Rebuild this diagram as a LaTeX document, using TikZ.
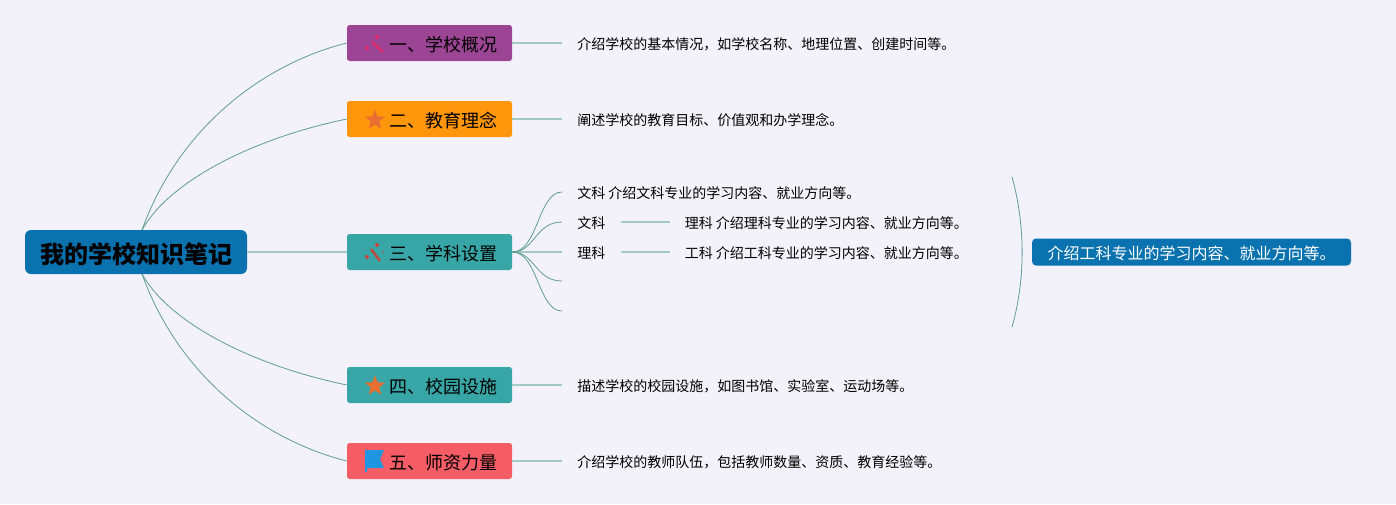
\documentclass[tikz,border=0pt]{standalone}
\usepackage{fontspec}
\setmainfont{Noto Sans CJK SC}
\usetikzlibrary{shapes.geometric}
\definecolor{bgc}{HTML}{F3F2FA}
\definecolor{rootc}{HTML}{0A72AE}
\definecolor{purplec}{HTML}{9C4595}
\definecolor{orangec}{HTML}{FF960C}
\definecolor{tealc}{HTML}{38A6A6}
\definecolor{redc}{HTML}{F55D66}
\definecolor{curvec}{HTML}{5F9C94}
\definecolor{linec}{HTML}{A3C9C3}
\definecolor{starc}{HTML}{E96E30}
\definecolor{wandp}{HTML}{DD2C6C}
\definecolor{wandr}{HTML}{C4483A}
\definecolor{flagc}{HTML}{1E96E0}
\tikzset{
  x=0.75pt,y=-0.75pt,
  rootbox/.style={draw=none,fill=rootc,rounded corners=4.5pt,minimum width=166.5pt,minimum height=33pt,inner sep=0pt,font=\fontsize{18}{20}\selectfont\bfseries,text=black,text height=18pt,text depth=1pt},
  branch/.style={draw=none,fill=#1,rounded corners=2pt,minimum width=123.75pt,minimum height=27pt,inner sep=0pt,font=\fontsize{13.5}{16}\selectfont,text=black,text height=13pt,text depth=0.9pt},
  leaf/.style={anchor=west,inner xsep=11.25pt,inner ysep=0pt,font=\fontsize{10.5}{13}\selectfont,text=black},
  notebox/.style={fill=rootc,rounded corners=3pt,minimum width=239.25pt,minimum height=20.25pt,inner sep=0pt,font=\fontsize{12}{14}\selectfont,text=white,text height=12.4pt,text depth=1pt},
  curve/.style={draw=curvec,line width=0.6pt},
  straight/.style={draw=linec,line width=0.9pt},
  staricon/.style={star,star points=5,star point ratio=2.4,fill=starc,inner sep=0pt,minimum size=16pt},
}
\newcommand{\ic}{\hspace*{21.5pt}}
\begin{document}
\begin{tikzpicture}
\useasboundingbox (0,0) rectangle (1396,504);
\fill[bgc] (0,0) rectangle (1396,504);

\coordinate (rootT) at (142,230);
\coordinate (rootB) at (142,274);
\node[rootbox] (root) at (136,252) {我的学校知识笔记};

\node[branch=purplec] (b1) at (429.5,43) {\ic 一、学校概况};
\node[branch=orangec] (b2) at (429.5,119) {\ic 二、教育理念};
\node[branch=tealc] (b3) at (429.5,252) {\ic 三、学科设置};
\node[branch=tealc] (b4) at (429.5,385) {\ic 四、校园设施};
\node[branch=redc] (b5) at (429.5,461) {\ic 五、师资力量};

\draw[curve] (rootT) .. controls (178,130) and (260,65) .. (b1.west);
\draw[curve] (rootT) .. controls (170,180) and (255,138) .. (b2.west);
\draw[curve] (rootB) .. controls (170,324) and (255,366) .. (b4.west);
\draw[curve] (rootB) .. controls (178,374) and (260,439) .. (b5.west);
\draw[straight] (root.east) -- (b3.west);

\node[leaf] (l1) at (562,44) {介绍学校的基本情况，如学校名称、地理位置、创建时间等。};
\node[leaf] (l2) at (562,120) {阐述学校的教育目标、价值观和办学理念。};
\node[leaf] (l4) at (562,386) {描述学校的校园设施，如图书馆、实验室、运动场等。};
\node[leaf] (l5) at (562,462) {介绍学校的教师队伍，包括教师数量、资质、教育经验等。};
\node[leaf] (s1) at (562,193) {文科 介绍文科专业的学习内容、就业方向等。};
\node[leaf] (s2) at (562,223) {文科};
\node[leaf] (s3) at (562,253) {理科};
\node[leaf] (t2) at (669.5,223) {理科 介绍理科专业的学习内容、就业方向等。};
\node[leaf] (t3) at (669.5,253) {工科 介绍工科专业的学习内容、就业方向等。};
\coordinate (s4) at (562,281);
\coordinate (s5) at (562,311);

\draw[straight] (b1.east) -- (b1.east -| l1.west);
\draw[straight] (b2.east) -- (b2.east -| l2.west);
\draw[straight] (b4.east) -- (b4.east -| l4.west);
\draw[straight] (b5.east) -- (b5.east -| l5.west);
\draw[straight] (b3.east) -- (b3.east -| s3.west);
\draw[straight] (s2.east |- 0,222) -- (t2.west |- 0,222);
\draw[straight] (s3.east |- 0,252) -- (t3.west |- 0,252);

\draw[curve] (b3.east) .. controls (538,252) and (538,192) .. (s1.west |- 0,192);
\draw[curve] (b3.east) .. controls (535,252) and (535,222) .. (s2.west |- 0,222);
\draw[curve] (b3.east) .. controls (535,252) and (535,281) .. (s4);
\draw[curve] (b3.east) .. controls (538,252) and (538,311) .. (s5);

\coordinate (braceT) at (1012,177);
\coordinate (braceB) at (1012,327);
\draw[curve] (braceT) .. controls (1025.5,225) and (1025.5,280) .. (braceB);
\node[notebox] (note) at (1191.5,252) {介绍工科专业的学习内容、就业方向等。};

% icons
\draw[wandp,line width=1.8pt] (372,42) -- (383,52);
\fill[wandp] (377,37) circle (2.2) (367,48) circle (2.2);
\node[staricon] (star2) at (375,120) {};
\draw[wandr,line width=1.8pt] (371,249) -- (380,261);
\fill[wandr] (377,245) circle (2) (367,257) circle (2) (383,252) circle (0.8);
\node[staricon] (star4) at (375,386) {};
\fill[flagc] (365,450) -- (384,450) -- (380,459) -- (384,468) -- (367,468) -- (367,472) -- (365,472) -- cycle;
\end{tikzpicture}
\end{document}
